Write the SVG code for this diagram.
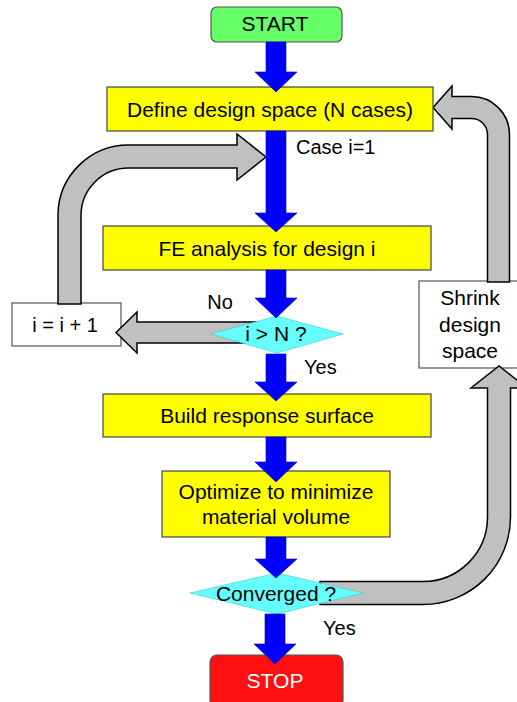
<svg xmlns="http://www.w3.org/2000/svg" width="517" height="702" viewBox="0 0 517 702">
<style>
text{font-family:"Liberation Sans",Arial,sans-serif;fill:#000}
.t{font-size:21px;text-anchor:middle}
.l{font-size:20px}
.box{fill:#ffff00;stroke:#444;stroke-width:1.2}
.wbox{fill:#fff;stroke:#555;stroke-width:1.2}
.dia{fill:#66ffff;stroke:#3cc;stroke-width:0.6}
.gray{fill:#c0c0c0;stroke:#000;stroke-width:1.5;stroke-linejoin:miter}
.blue{fill:#0000ff;stroke:#0000a0;stroke-width:0.6}
</style>
<defs>
<path id="barrow" d="M-10,0 L10,0 L10,0 L10,1 L-10,1 Z"/>
</defs>
<g id="n-iinc"><rect class="wbox" x="12" y="303" width="109" height="43"/><text class="l" x="65" y="331.5" text-anchor="middle">i = i + 1</text></g>
<g id="n-shrink"><rect class="wbox" x="419" y="281" width="102" height="87"/><text class="t" x="470" y="305">Shrink</text><text class="t" x="470" y="332">design</text><text class="t" x="470" y="358">space</text></g>
<g id="connectors">
<path class="gray" d="M58,304 L58,215.5 A70.5,70.5 0 0 1 128.5,145 L237,145 L237,134 L266,157 L237,180 L237,168 L128.5,168 A47.5,47.5 0 0 0 81,215.5 L81,304 Z"/>
<path class="gray" d="M276,322 L137,322 L137,312 L116,332.5 L137,353 L137,343 L276,343 Z"/>
<path class="gray" d="M487.5,282 L487.5,134.5 A16,16 0 0 0 471.5,118.5 L452,118.5 L452,129 L433,107.5 L452,86 L452,96.5 L471.5,96.5 A38,38 0 0 1 509.5,134.5 L509.5,282 Z"/>
<path class="gray" d="M320,581.5 L423,581.5 A64.5,64.5 0 0 0 487.5,517 L487.5,388 L471,388 L499,366 L527,388 L510.5,388 L510.5,517 A87.5,87.5 0 0 1 423,604.5 L320,604.5 Z"/>
</g>
<g id="n-start"><rect x="211" y="7" width="131" height="35" rx="6" fill="#66ff66" stroke="#555" stroke-width="1.2"/><text class="t" x="275" y="30.5">START</text></g>
<g id="n-define"><rect class="box" x="107" y="87" width="326" height="44"/><text class="t" x="270" y="116.5">Define design space (N cases)</text></g>
<g id="n-fe"><rect class="box" x="103" y="226" width="328" height="44"/><text class="t" x="267" y="255.5">FE analysis for design i</text></g>
<g id="n-check"><polygon class="dia" points="211,334 277,316 343,334 277,353"/><text class="t" x="276" y="340.5">i &gt; N ?</text></g>
<g id="n-build"><rect class="box" x="103" y="394" width="328" height="43"/><text class="t" x="267" y="422.5">Build response surface</text></g>
<g id="n-opt"><rect class="box" x="162" y="471" width="228" height="66"/><text class="t" x="276" y="498.5">Optimize to minimize</text><text class="t" x="276" y="523.5">material volume</text></g>
<g id="n-conv"><polygon class="dia" points="190,593 277,573 363,593 277,614"/><text class="t" x="276" y="600.5">Converged ?</text></g>
<g id="n-stop"><rect x="210" y="655" width="133" height="52" rx="7" fill="#ff1010" stroke="#555" stroke-width="1.2"/><text class="t" x="275" y="687.5" style="fill:#fff">STOP</text></g>
<g id="blue-arrows">
<path class="blue" d="M266,42 L286,42 L286,72 L297,72 L276,92 L255,72 L266,72 Z"/>
<path class="blue" d="M266,131 L286,131 L286,213 L297,213 L276,232 L255,213 L266,213 Z"/>
<path class="blue" d="M266,270 L286,270 L286,298 L297,298 L276,318 L255,298 L266,298 Z"/>
<path class="blue" d="M266,354 L286,354 L286,382 L297,382 L276,401 L255,382 L266,382 Z"/>
<path class="blue" d="M266,437 L286,437 L286,462 L297,462 L276,482 L255,462 L266,462 Z"/>
<path class="blue" d="M266,537 L286,537 L286,559 L297,559 L276,578 L255,559 L266,559 Z"/>
<path class="blue" d="M265,614 L285,614 L285,644 L296,644 L275,664 L254,644 L265,644 Z"/>
</g>
<g id="labels">
<text class="l" x="296" y="154">Case i=1</text>
<text class="l" x="220" y="309" text-anchor="middle">No</text>
<text class="l" x="304" y="374">Yes</text>
<text class="l" x="323" y="635">Yes</text>
</g>
</svg>
